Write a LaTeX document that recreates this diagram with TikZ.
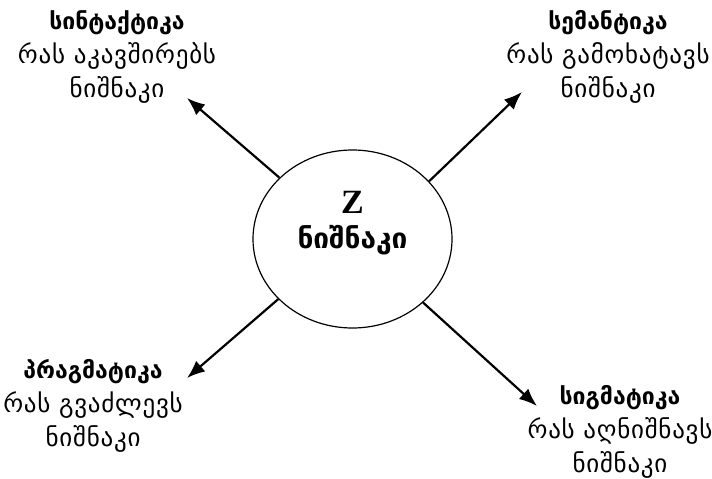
\documentclass[tikz,border=0pt]{standalone}
\usepackage{fontspec}
\setmainfont{DejaVu Sans}
\newfontfamily\geowide[LetterSpace=3]{DejaVu Sans}
\newfontfamily\zfont{Liberation Serif}
\usetikzlibrary{shapes.geometric,arrows.meta}

\newcommand\heading[1]{{\normalfont\fontsize{23}{34}\selectfont\bfseries #1}}

\tikzset{
  sign/.style={ellipse, draw, line width=1.2pt, minimum width=199pt,
    minimum height=178pt, inner sep=0pt, align=center},
  aspect/.style={align=center, inner sep=0pt,
    font=\geowide\fontsize{25}{34}\selectfont},
  pointer/.style={-{Latex[length=18pt,width=14pt]}, line width=2.2pt}
}

\begin{document}
\begin{tikzpicture}[x=1pt, y=-1pt]
\useasboundingbox (0,0) rectangle (712,479);

\node[sign] (z) at (352.5,239) {};
\node (zletter) at (352.5,202) {\zfont\fontsize{34}{34}\selectfont\bfseries Z};
\node (zname) at (352.5,240) {\fontsize{28}{28}\selectfont\bfseries ნიშნაკი};

\node[aspect] (syntax) at (117,57) {\heading{სინტაქტიკა}\\რას აკავშირებს\\ნიშნაკი};
\node[aspect] (semantics) at (608,57) {\heading{სემანტიკა}\\რას გამოხატავს\\ნიშნაკი};
\node[aspect] (pragmatics) at (93,406) {\heading{პრაგმატიკა}\\რას გვაძლევს\\ნიშნაკი};
\node[aspect] (sigmatics) at (620,432) {\heading{სიგმატიკა}\\რას აღნიშნავს\\ნიშნაკი};

\coordinate (syntaxtip) at (187,98);
\coordinate (semanticstip) at (522,92);
\coordinate (pragmaticstip) at (187,378);
\coordinate (sigmaticstip) at (537,406);

\draw[pointer] (z.140.5) -- (syntaxtip);
\draw[pointer] (z.37.4) -- (semanticstip);
\draw[pointer] (z.219) -- (pragmaticstip);
\draw[pointer] (z.318) -- (sigmaticstip);

\end{tikzpicture}
\end{document}
